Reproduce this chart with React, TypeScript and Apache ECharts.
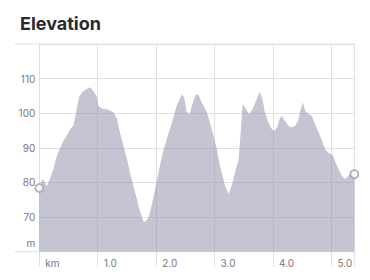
import React, { useEffect, useRef } from "react";
import * as echarts from "echarts";

const distanceKm = [
  0.0, 0.06, 0.13, 0.18, 0.24, 0.3, 0.35, 0.41, 0.47, 0.53, 0.58, 0.61, 0.64, 0.68, 0.73, 0.81, 0.87, 0.92, 0.98,
  1.01, 1.07, 1.18, 1.27, 1.33, 1.38, 1.44, 1.5, 1.55, 1.61, 1.67, 1.72, 1.78, 1.81, 1.87, 1.92, 1.98,
  2.04, 2.1, 2.18, 2.27, 2.35, 2.44, 2.48, 2.52, 2.57, 2.61, 2.67, 2.72, 2.78, 2.87, 2.95,
  3.04, 3.09, 3.18, 3.24, 3.29, 3.35, 3.41, 3.45, 3.48, 3.52, 3.59, 3.65, 3.71, 3.77, 3.82, 3.86, 3.92, 3.98,
  4.02, 4.07, 4.11, 4.15, 4.2, 4.26, 4.32, 4.38, 4.43, 4.46, 4.51, 4.55, 4.61, 4.66, 4.72, 4.78, 4.84, 4.89, 4.95,
  5.02, 5.06, 5.12, 5.18, 5.23, 5.29, 5.35, 5.39,
];

const elevationM = [
  78.4, 81, 79, 81, 83.8, 87.7, 89.6, 92, 93.5, 95.4, 96.4, 98.3, 101.2, 104.6, 106, 107, 107.5, 106.5, 105,
  102.1, 101.4, 101, 100.2, 98.3, 94.4, 90.6, 86.7, 82.9, 79, 75.2, 71.8, 68.9, 68.6, 69.9, 73.2, 78,
  82.9, 87.7, 92.5, 97.3, 102.1, 105.5, 104.6, 100.5, 99.7, 102.1, 105.2, 105.5, 103.1, 100.2, 95.4,
  89.6, 84.8, 79, 76.6, 79, 82.9, 86.5, 95.4, 102.6, 101.7, 99.7, 101.2, 103.6, 106.2, 104.1, 100.2, 97.3, 95.4,
  94.9, 95.9, 98.3, 99.3, 97.8, 96.4, 95.9, 96.4, 98, 100.2, 103.1, 100.7, 99.7, 99.3, 96.8, 94.4, 92, 89.6, 88.5,
  87.9, 86.2, 83.8, 81.9, 81, 81.9, 83.4, 82.4,
];

const yMin = 60;
const yMax = 120;
const yStep = 10;
const xStep = 1;
const xUnitLabel = "km";
const yUnitLabel = "m";
const titleText = "Elevation";

const GRID_COLOR = "#e0e0e4";
const LABEL_COLOR = "#78787e";
const FONT = "Inter, 'Open Sans', sans-serif";

export default function App() {
  const ref = useRef<HTMLDivElement>(null);

  useEffect(() => {
    if (!ref.current) return;
    const chart = echarts.init(ref.current, undefined, { renderer: "svg" });
    const xMax = distanceKm[distanceKm.length - 1];
    const points = distanceKm.map((d, i) => [d, elevationM[i]]);
    const endpoints = [points[0], points[points.length - 1]];

    chart.setOption({
      animation: false,
      title: {
        text: titleText,
        left: 15,
        top: 9,
        textStyle: { fontSize: 18, fontWeight: "bold", color: "#2a2a2e", fontFamily: FONT },
      },
      grid: { left: 39.3, right: 15.7, top: 44, bottom: 28.3, containLabel: false },
      xAxis: {
        type: "value",
        min: 0,
        max: xMax,
        interval: xStep,
        axisLine: { show: true, lineStyle: { color: GRID_COLOR, width: 1 } },
        axisTick: { show: true, length: 15, lineStyle: { color: GRID_COLOR } },
        splitLine: { show: true, lineStyle: { color: GRID_COLOR, width: 1 } },
        axisLabel: {
          color: LABEL_COLOR,
          fontSize: 10,
          fontFamily: FONT,
          align: "left",
          margin: 6,
          padding: [0, 0, 0, 6],
          showMaxLabel: false,
          formatter: (v: number) => (v === 0 ? xUnitLabel : v.toFixed(1)),
        },
      },
      yAxis: {
        type: "value",
        min: yMin,
        max: yMax,
        interval: yStep,
        axisLine: { show: false },
        axisTick: { show: false },
        splitLine: { show: true, lineStyle: { color: GRID_COLOR, width: 1 } },
        axisLabel: {
          color: LABEL_COLOR,
          fontSize: 10,
          fontFamily: FONT,
          margin: 4,
          formatter: (v: number) => (v === yMax ? "" : v === yMin ? "{u|" + yUnitLabel + "}" : String(v)),
          rich: { u: { color: LABEL_COLOR, fontSize: 10, fontFamily: FONT, padding: [0, 0, 17, 0] } },
        },
      },
      series: [
        {
          type: "line",
          data: points,
          showSymbol: false,
          symbol: "none",
          lineStyle: { width: 0 },
          areaStyle: { color: "#8a8aa6", opacity: 0.5 },
          z: 2,
        },
        {
          type: "scatter",
          data: endpoints,
          symbol: "circle",
          symbolSize: 8,
          itemStyle: { color: "#ffffff", borderColor: "#a4a4b4", borderWidth: 2 },
          z: 5,
        },
      ],
    });

    const tl = chart.convertToPixel({ gridIndex: 0 }, [0, yMax]) as number[];
    const br = chart.convertToPixel({ gridIndex: 0 }, [xMax, yMin]) as number[];
    chart.setOption({
      graphic: [
        { type: "line", shape: { x1: 15, y1: tl[1], x2: br[0], y2: tl[1] }, style: { stroke: GRID_COLOR, lineWidth: 1 }, z: 1 },
        { type: "line", shape: { x1: 15, y1: br[1], x2: tl[0], y2: br[1] }, style: { stroke: GRID_COLOR, lineWidth: 1 }, z: 1 },
        { type: "line", shape: { x1: br[0], y1: tl[1], x2: br[0], y2: br[1] + 15 }, style: { stroke: GRID_COLOR, lineWidth: 1 }, z: 1 },
      ],
    });

    return () => chart.dispose();
  }, []);

  return <div ref={ref} style={{ width: 370, height: 280, position: "absolute", left: 0, top: 0 }} />;
}
